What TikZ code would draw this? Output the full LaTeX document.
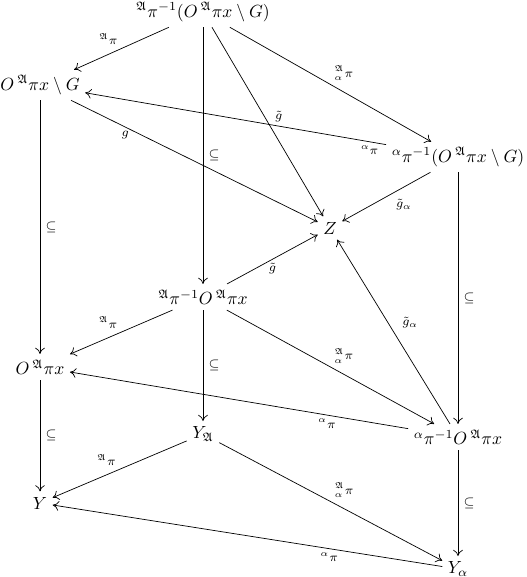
\documentclass[tikz,border=0pt]{standalone}
\usepackage{amssymb}
\usetikzlibrary{arrows.meta}
\newcommand{\fA}{\mathfrak{A}}
\begin{document}
\begin{tikzpicture}[x=0.5682pt,y=-0.5682pt,
  obj/.style={inner sep=3pt},
  arr/.style={-{To[length=3.5pt,width=5.5pt]}, line width=0.4pt},
  lab/.style={font=\scriptsize, inner sep=2pt},
  sub/.style={font=\scriptsize, inner sep=3pt}]
\useasboundingbox (0,0) rectangle (526,577);
\node[obj] (T) at (203,12) {${}^{\fA}\pi^{-1}(O\,{}^{\fA}\pi x\setminus G)$};
\node[obj] (L1) at (40,85) {$O\,{}^{\fA}\pi x\setminus G$};
\node[obj] (R1) at (458,157) {${}^{\alpha}\pi^{-1}(O\,{}^{\fA}\pi x\setminus G)$};
\node[obj] (Z) at (330,228) {$Z$};
\node[obj] (M) at (203,297) {${}^{\fA}\pi^{-1}O\,{}^{\fA}\pi x$};
\node[obj] (L2) at (40,367) {$O\,{}^{\fA}\pi x$};
\node[obj] (YA) at (203,434) {$Y_{\fA}$};
\node[obj] (R2) at (458,437) {${}^{\alpha}\pi^{-1}O\,{}^{\fA}\pi x$};
\node[obj] (Y) at (40,503) {$Y$};
\node[obj] (Yal) at (458,569) {$Y_{\alpha}$};
\draw[arr] (T) -- node[lab, above left] {${}^{\fA}\pi$} (L1);
\draw[arr] (T) -- node[sub, right] {$\subseteq$} (M);
\draw[arr] (T) -- node[lab, right, pos=0.47, xshift=4pt] {$\tilde g$} (Z);
\draw[arr] (T) -- node[lab, above right] {${}^{\fA}_{\alpha}\pi$} (R1);
\draw[arr] (R1) -- node[lab, below, pos=0.055] {${}^{\alpha}\pi$} (L1);
\draw[arr] (L1) -- node[lab, below, pos=0.22] {$g$} (Z);
\draw[arr] (R1) -- node[lab, below, pos=0.3, yshift=-5pt] {$\tilde g_{\alpha}$} (Z);
\draw[arr] (M) -- node[lab, below] {$\tilde g$} (Z);
\draw[arr] (R2) -- node[lab, right, pos=0.55, xshift=6pt] {$\tilde g_{\alpha}$} (Z);
\draw[arr] (L1) -- node[sub, right] {$\subseteq$} (L2);
\draw[arr] (R1) -- node[sub, right] {$\subseteq$} (R2);
\draw[arr] (M) -- node[lab, above left] {${}^{\fA}\pi$} (L2);
\draw[arr] (M) -- node[sub, right] {$\subseteq$} (YA);
\draw[arr] (M) -- node[lab, above right] {${}^{\fA}_{\alpha}\pi$} (R2);
\draw[arr] (R2) -- node[lab, below, pos=0.24] {${}^{\alpha}\pi$} (L2);
\draw[arr] (L2) -- node[sub, right] {$\subseteq$} (Y);
\draw[arr] (R2) -- node[sub, right] {$\subseteq$} (Yal);
\draw[arr] (YA) -- node[lab, above left] {${}^{\fA}\pi$} (Y);
\draw[arr] (YA) -- node[lab, above right] {${}^{\fA}_{\alpha}\pi$} (Yal);
\draw[arr] (Yal) -- node[lab, below, pos=0.29] {${}^{\alpha}\pi$} (Y);
\end{tikzpicture}
\end{document}
